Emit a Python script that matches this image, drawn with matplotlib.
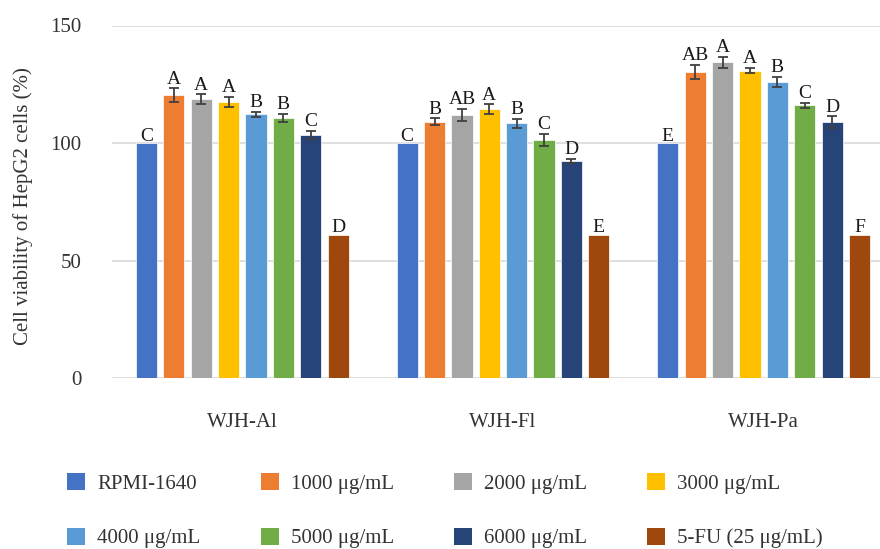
import matplotlib.pyplot as plt
import numpy as np
from matplotlib.patches import Patch

plt.rcParams['font.family'] = ['Liberation Serif', 'DejaVu Serif']

groups = ['WJH-Al', 'WJH-Fl', 'WJH-Pa']
treatments = ['RPMI-1640', '1000 μg/mL', '2000 μg/mL', '3000 μg/mL',
              '4000 μg/mL', '5000 μg/mL', '6000 μg/mL', '5-FU (25 μg/mL)']
colors = ['#4472C4', '#ED7D31', '#A5A5A5', '#FFC000',
          '#5B9BD5', '#70AD47', '#264478', '#9E480E']

# rows = treatment, columns = group
values = [
    [100.0, 100.0, 100.0],
    [120.4, 109.1, 130.4],
    [118.7, 111.8, 134.3],
    [117.4, 114.3, 130.8],
    [112.3, 108.3, 126.0],
    [110.6, 101.3, 116.0],
    [103.4, 92.5, 108.8],
    [61.0, 61.0, 61.0],
]
errors = [
    [0.0, 0.0, 0.0],
    [2.8, 1.4, 3.0],
    [2.0, 2.6, 2.4],
    [2.1, 2.1, 1.2],
    [1.1, 2.0, 2.0],
    [1.8, 2.6, 1.2],
    [1.8, 0.9, 2.6],
    [0.0, 0.0, 0.0],
]
letters = [
    ['C', 'C', 'E'],
    ['A', 'B', 'AB'],
    ['A', 'AB', 'A'],
    ['A', 'A', 'A'],
    ['B', 'B', 'B'],
    ['B', 'C', 'C'],
    ['C', 'D', 'D'],
    ['D', 'E', 'F'],
]

fig = plt.figure(figsize=(8.8, 5.49), dpi=100)
ax = fig.add_axes([112 / 880, 1 - 378 / 549, 782 / 880, 352.5 / 549])

x = np.arange(len(groups))
pitch = 0.105
width = 0.081
n = len(treatments)
for i in range(n):
    pos = x + (i - (n - 1) / 2) * pitch
    vals = np.array(values[i])
    errs = np.array(errors[i])
    ax.bar(pos, vals, width, color=colors[i], edgecolor='white', linewidth=0.5, zorder=2)
    has_err = errs > 0
    if has_err.any():
        ax.errorbar(pos[has_err], vals[has_err], yerr=errs[has_err], fmt='none',
                    ecolor='#404040', elinewidth=1.3, capsize=3.4, capthick=1.3, zorder=3)
    for p, v, e, lab in zip(pos, vals, errs, letters[i]):
        off = 2.0 if e > 0 else 1.0
        ax.text(p, v + e + off, lab, ha='center', va='baseline', fontsize=14, color='#1a1a1a')

ax.set_ylim(0, 150)
ax.set_xlim(-0.5, 2.5)
ax.set_yticks([0, 50, 100, 150])
ax.yaxis.grid(True, color='#d9d9d9', linewidth=1.2, zorder=0)
ax.set_axisbelow(True)
for s in ['top', 'right', 'left', 'bottom']:
    ax.spines[s].set_visible(False)
ax.tick_params(axis='y', length=0, pad=22, labelsize=15, labelcolor='#333333')
ax.set_xticks(x)
ax.set_xticklabels(groups)
ax.tick_params(axis='x', length=0, pad=25, labelsize=15, labelcolor='#333333')

fig.text(23 / 880, 1 - 206 / 549, 'Cell viability of HepG2 cells (%)', rotation=90,
         ha='center', va='center', fontsize=15, color='#333333')

handles = [Patch(facecolor=c, edgecolor='none') for c in colors]
col_x = [67, 261, 454, 647]
for j in range(4):
    leg = fig.legend([handles[j], handles[j + 4]], [treatments[j], treatments[j + 4]],
                     loc='upper left', bbox_to_anchor=(col_x[j] / 880, 1 - 473 / 549),
                     frameon=False, fontsize=15, handlelength=0.85, handleheight=0.85,
                     handletextpad=0.6, labelspacing=1.65, borderpad=0, borderaxespad=0)
    for t in leg.get_texts():
        t.set_color('#333333')

fig.savefig('out.png', dpi=100)
